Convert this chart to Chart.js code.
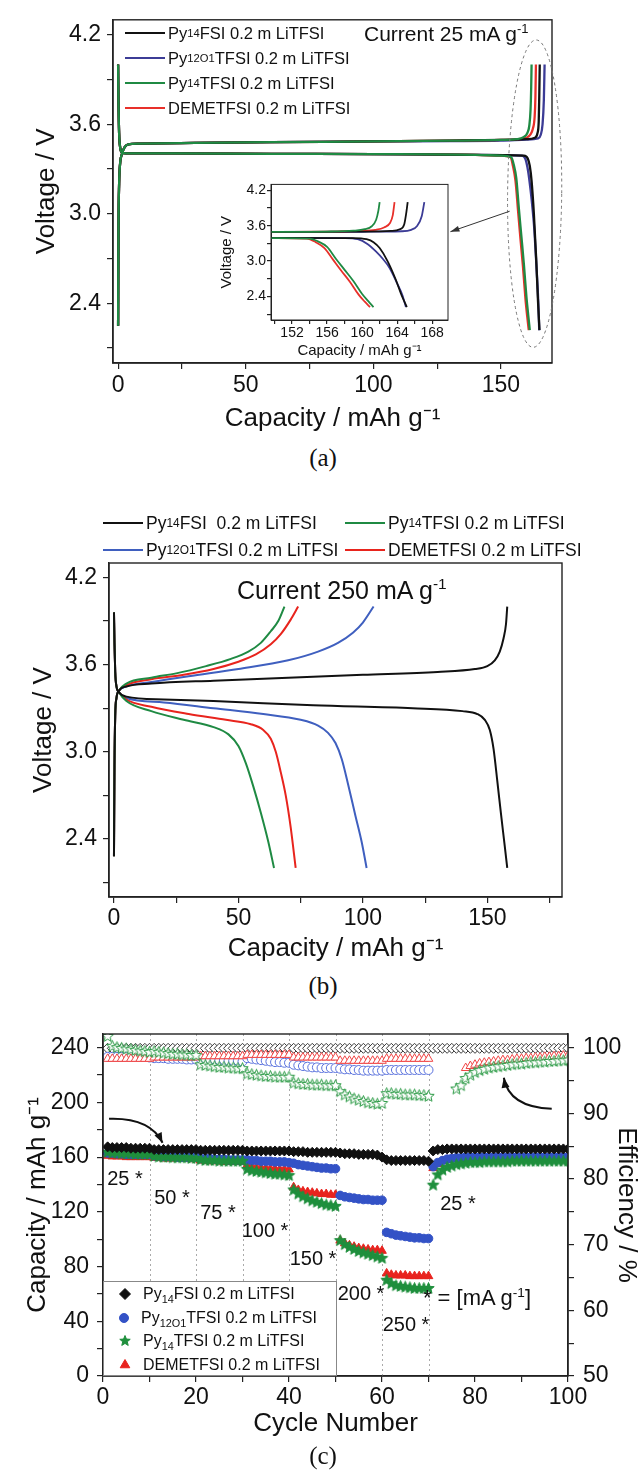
<!DOCTYPE html>
<html>
<head>
<meta charset="utf-8">
<script src="https://cdn.jsdelivr.net/npm/chart.js@4.4.1/dist/chart.umd.min.js"></script>
<style>
  body { margin: 0; background: #fff; }
  #page { position: relative; width: 644px; height: 1471px; overflow: hidden; font-family: 'Liberation Sans', Arial, sans-serif; color: #111; }
  canvas { position: absolute; }
  .t { position: absolute; white-space: nowrap; line-height: 1; transform: translateY(-50%); }
  .c { position: absolute; white-space: nowrap; line-height: 1; transform: translate(-50%, -50%); }
  .lg { position: absolute; display: flex; align-items: center; white-space: nowrap; height: 20px; transform: translateY(-50%); }
  .lg i { display: inline-block; width: 40px; height: 2.5px; margin-right: 3px; }
  .lg canvas { position: static; margin-right: 11px; }
  sub { font-size: 68%; vertical-align: -0.35em; line-height: 0; }
  sup { font-size: 62%; vertical-align: 0.6em; line-height: 0; }
  .cap { position: absolute; font-family: 'Liberation Serif', 'Times New Roman', serif; font-size: 25px; line-height: 1; transform: translate(-50%, -50%); }
  #legC { position: absolute; left: 103px; top: 1281px; width: 234px; height: 95px; background: #fff; border: 1px solid #888; box-sizing: border-box; }
</style>
</head>
<body>
<div id="page">
  <canvas id="chartA" width="644" height="440" style="left:0;top:0"></canvas>
  <canvas id="chartInset" width="250" height="186" style="left:205px;top:175px"></canvas>
  <canvas id="chartB" width="644" height="470" style="left:0;top:500px"></canvas>
  <canvas id="chartC" width="644" height="471" style="left:0;top:1000px"></canvas>

  <!-- panel (a) -->
  <div class="lg" style="left:125px;top:33px;font-size:16.5px"><i style="background:#111"></i>Py<sub>14</sub>FSI 0.2 m LiTFSI</div>
  <div class="lg" style="left:125px;top:58px;font-size:16.5px"><i style="background:#3c3c96"></i>Py<sub>12O1</sub>TFSI 0.2 m LiTFSI</div>
  <div class="lg" style="left:125px;top:83px;font-size:16.5px"><i style="background:#1f8a43"></i>Py<sub>14</sub>TFSI 0.2 m LiTFSI</div>
  <div class="lg" style="left:125px;top:108px;font-size:16.5px"><i style="background:#e8302a"></i>DEMETFSI 0.2 m LiTFSI</div>
  <div class="t" style="left:364px;top:33px;font-size:21px">Current 25 mA g<sup>-1</sup></div>
  <div class="cap" style="left:323px;top:457px">(a)</div>

  <!-- panel (b) -->
  <div class="lg" style="left:103px;top:523px;font-size:17.5px"><i style="background:#111"></i>Py<sub>14</sub>FSI&nbsp; 0.2 m LiTFSI</div>
  <div class="lg" style="left:345px;top:523px;font-size:17.5px"><i style="background:#1f8a43"></i>Py<sub>14</sub>TFSI 0.2 m LiTFSI</div>
  <div class="lg" style="left:103px;top:550px;font-size:17.5px"><i style="background:#3f5fbf"></i>Py<sub>12O1</sub>TFSI 0.2 m LiTFSI</div>
  <div class="lg" style="left:345px;top:550px;font-size:17.5px"><i style="background:#e8241d"></i>DEMETFSI 0.2 m LiTFSI</div>
  <div class="t" style="left:237px;top:590px;font-size:25px">Current 250 mA g<sup>-1</sup></div>
  <div class="cap" style="left:323px;top:985px">(b)</div>

  <!-- panel (c) -->
  <div class="c" style="left:125px;top:1178px;font-size:20px">25 *</div>
  <div class="c" style="left:172px;top:1197px;font-size:20px">50 *</div>
  <div class="c" style="left:218px;top:1212px;font-size:20px">75 *</div>
  <div class="c" style="left:265px;top:1230px;font-size:20px">100 *</div>
  <div class="c" style="left:313px;top:1258px;font-size:20px">150 *</div>
  <div class="c" style="left:361px;top:1293px;font-size:20px">200 *</div>
  <div class="c" style="left:406px;top:1324px;font-size:20px">250 *</div>
  <div class="c" style="left:458px;top:1203px;font-size:20px">25 *</div>
  <div class="c" style="left:477px;top:1298px;font-size:22px">* = [mA g<sup>-1</sup>]</div>
  <div id="legC"></div>
  <div class="cap" style="left:323px;top:1455px">(c)</div>
</div>

<script>
// ---- panel (a): 25 mA/g charge & discharge, [capacity mAh/g, voltage V]
const A_CHG_PY14FSI = [[0,2.25],[0.15,2.9],[0.4,3.2],[0.8,3.34],[1.5,3.4],[2.5,3.445],[4,3.465],[8,3.47],[30,3.475],[60,3.48],[100,3.485],[130,3.49],[150,3.495],[160,3.5],[163.3,3.51],[164.3,3.54],[164.8,3.62],[165.0,3.78],[165.2,4.0]];
const A_CHG_PY12O1 = [[0,2.25],[0.15,2.9],[0.4,3.2],[0.8,3.34],[1.5,3.4],[2.5,3.445],[4,3.465],[8,3.47],[30,3.475],[60,3.48],[100,3.485],[130,3.487],[150,3.49],[160,3.497],[164.5,3.505],[165.6,3.53],[166.3,3.6],[166.8,3.76],[167.1,4.0]];
const A_CHG_PY14TFSI = [[0,2.25],[0.15,2.9],[0.4,3.2],[0.8,3.34],[1.5,3.4],[2.5,3.445],[4,3.465],[8,3.47],[30,3.475],[60,3.48],[100,3.485],[130,3.49],[150,3.495],[156,3.5],[159,3.515],[160.3,3.54],[161.1,3.59],[161.6,3.7],[161.85,3.85],[162.0,4.0]];
const A_CHG_DEME = [[0,2.25],[0.15,2.9],[0.4,3.2],[0.8,3.34],[1.5,3.4],[2.5,3.445],[4,3.465],[8,3.47],[30,3.475],[60,3.48],[100,3.485],[130,3.49],[150,3.495],[157,3.5],[160,3.51],[161.5,3.53],[162.5,3.57],[163.2,3.65],[163.5,3.78],[163.7,4.0]];
const A_DIS_PY14FSI = [[0,4.0],[0.15,3.75],[0.4,3.54],[0.8,3.445],[1.5,3.41],[3,3.405],[20,3.405],[60,3.402],[100,3.4],[140,3.395],[159,3.39],[160.5,3.37],[161.3,3.32],[162,3.22],[162.9,3.0],[163.8,2.7],[164.5,2.42],[165.1,2.22]];
const A_DIS_PY12O1 = [[0,4.0],[0.15,3.75],[0.4,3.54],[0.8,3.445],[1.5,3.41],[3,3.405],[20,3.405],[60,3.402],[100,3.4],[140,3.395],[158,3.39],[159.5,3.37],[160.6,3.29],[161.6,3.16],[162.4,3.03],[163.1,2.89],[164.0,2.62],[164.6,2.42],[165.0,2.22]];
const A_DIS_PY14TFSI = [[0,4.0],[0.15,3.75],[0.4,3.54],[0.8,3.445],[1.5,3.41],[3,3.405],[20,3.405],[60,3.402],[100,3.4],[140,3.395],[150,3.39],[154,3.38],[155,3.33],[156,3.24],[157,3.04],[158,2.85],[159,2.66],[160,2.44],[160.7,2.32],[161.3,2.22]];
const A_DIS_DEME = [[0,4.0],[0.15,3.75],[0.4,3.54],[0.8,3.445],[1.5,3.41],[3,3.405],[20,3.405],[60,3.402],[100,3.4],[140,3.395],[150,3.39],[153.7,3.38],[154.7,3.32],[155.7,3.22],[156.7,3.02],[157.6,2.84],[158.6,2.65],[159.6,2.43],[160.3,2.31],[160.9,2.22]];

// ---- panel (b): 250 mA/g
const B_CHG_PY14FSI = [[0,2.28],[0.2,2.9],[0.5,3.25],[1,3.37],[2,3.42],[5,3.45],[15,3.47],[40,3.49],[70,3.51],[100,3.53],[130,3.55],[145,3.57],[150,3.59],[153,3.63],[155,3.69],[156.5,3.78],[157.5,3.88],[158,4.0]];
const B_CHG_PY12O1 = [[0,2.28],[0.2,2.9],[0.5,3.25],[1,3.37],[2,3.42],[5,3.45],[15,3.48],[30,3.52],[50,3.57],[70,3.63],[82,3.69],[90,3.75],[96,3.82],[100,3.89],[104.3,4.0]];
const B_CHG_PY14TFSI = [[0,2.28],[0.2,2.9],[0.5,3.25],[1,3.37],[2,3.42],[5,3.47],[15,3.51],[25,3.54],[37,3.59],[47,3.64],[54,3.69],[59,3.75],[63,3.83],[66,3.9],[68.5,4.0]];
const B_CHG_DEME = [[0,2.28],[0.2,2.9],[0.5,3.25],[1,3.37],[2,3.42],[5,3.46],[15,3.5],[28,3.53],[40,3.57],[50,3.62],[57,3.67],[63,3.74],[67,3.81],[71,3.91],[74,4.0]];
const B_DIS_PY14FSI = [[0,3.96],[0.2,3.75],[0.5,3.55],[1,3.45],[2,3.41],[5,3.38],[20,3.36],[40,3.35],[80,3.32],[120,3.3],[140,3.28],[146,3.26],[149,3.22],[151,3.15],[152.5,3.02],[154,2.8],[155.5,2.57],[157,2.35],[158,2.2]];
const B_DIS_PY12O1 = [[0,3.96],[0.2,3.75],[0.5,3.55],[1,3.45],[2,3.41],[5,3.37],[20,3.34],[40,3.3],[60,3.26],[75,3.22],[82,3.18],[86,3.13],[89,3.06],[91.5,2.95],[94,2.78],[97,2.56],[99.5,2.38],[101.5,2.2]];
const B_DIS_PY14TFSI = [[0,3.96],[0.2,3.75],[0.5,3.55],[1,3.45],[2,3.41],[5,3.35],[15,3.28],[28,3.22],[40,3.17],[46,3.12],[50,3.04],[53,2.92],[56,2.76],[59,2.58],[62,2.38],[64.3,2.2]];
const B_DIS_DEME = [[0,3.96],[0.2,3.75],[0.5,3.55],[1,3.45],[2,3.41],[5,3.36],[15,3.31],[30,3.26],[45,3.22],[55,3.19],[60,3.15],[63,3.09],[65,3.0],[67,2.86],[69,2.7],[71,2.48],[73,2.2]];

// ---- panel (c): rate capability, cycles 1..100
const CYCLES = [1,2,3,4,5,6,7,8,9,10,11,12,13,14,15,16,17,18,19,20,21,22,23,24,25,26,27,28,29,30,31,32,33,34,35,36,37,38,39,40,41,42,43,44,45,46,47,48,49,50,51,52,53,54,55,56,57,58,59,60,61,62,63,64,65,66,67,68,69,70,71,72,73,74,75,76,77,78,79,80,81,82,83,84,85,86,87,88,89,90,91,92,93,94,95,96,97,98,99,100];
const CAP_PY14FSI = [167.5,167,167,167,167,166.5,166.5,166.5,166.5,166.5, 165.5,165.5,165.5,165.5,165.5,165.5,165.5,165.5,165.5,165.5, 165,165,165,165,165,165,165,165,165,165, 164.5,164.5,164.5,164.5,164.5,164.5,164.5,164.5,164.5,164.5, 164,164,164,163.5,163.5,163.5,163.5,163.5,163.5,163.5, 163,162.5,162.5,162.5,162,162,162,162,161.5,160, 158,157.5,157.5,157.5,157.5,157.5,157.5,157.5,157.5,157, 164.5,165.5,165.5,166,166,166,166,166,166,166, 166,166,166,166,166,166,166,166,166,166, 166,166,166,166,166,166,166,166,166,166];
const CAP_PY12O1 = [163,163,162.5,162.5,162,162,162,162,162,162, 161,161,160.5,160.5,160.5,160,160,160,160,160, 159,159,159,158.5,158.5,158.5,158,158,158,158, 158,157.5,157.5,157,157,157,156.5,156.5,156.5,156, 155.5,154.5,154,153.5,153,152.5,152,152,151.5,151.5, 132,131,130.5,130,129.5,129,129,128.5,128.5,128.5, 105,104,103,102.5,102,101.5,101,101,100.5,100.5, 153,156,157.5,158.5,159,159.5,159.5,160,160,160, 160,160,160,160,160,160,160,160,160,160, 160,160,160,160,160,160,160,160,160,160];
const CAP_PY14TFSI = [163.5,163,163,162.5,162.5,162.5,162,162,162,162, 160.5,160,160,160,159.5,159.5,159.5,159.5,159,159, 158,157.5,157.5,157.5,157,157,157,157,157,157, 151,150,149.5,149,148.5,148,147.5,147.5,147,146.5, 136,133,131,129.5,128,127,126,125,124.5,124, 99,96,94,92.5,91,90,89,88,87,86, 70,67.5,66,65.5,65,64.5,64,64,64,64, 139.5,147,150.5,152.5,153.5,154.5,155,155.5,156,156, 156,156.5,156.5,156.5,156.5,156.5,156.5,157,157,157, 157,157,157,157,157,157,157,157,157,157];
const CAP_DEME = [161,160.5,160.5,160.5,160,160,160,160,160,160, 159.5,159.5,159,159,159,159,159,159,158.5,158.5, 157.5,157.5,157,157,157,156.5,156.5,156.5,156.5,156.5, 154,153,152.5,152,152,151.5,151.5,151,151,151, 138,136,135,134.5,134,133.5,133,133,132.5,132.5, 99,97,95.5,94.5,93.5,93,92.5,92,92,91.5, 75,74,73.5,73.5,73.5,73,73,73,73,73, 152,155,157,158,158.5,159,159,159,159.5,159.5, 159.5,159.5,159.5,159.5,159.5,159.5,159.5,159.5,159.5,159.5, 159.5,159.5,159.5,159.5,159.5,159.5,159.5,159.5,159.5,159.5];
const EFF_PY14FSI = [99.9,99.9,99.9,99.9,99.9,99.9,99.9,99.9,99.9,99.9, 99.9,99.9,99.9,99.9,99.9,99.9,99.9,99.9,99.9,99.9, 99.9,99.9,99.9,99.9,99.9,99.9,99.9,99.9,99.9,99.9, 99.9,99.9,99.9,99.9,99.9,99.9,99.9,99.9,99.9,99.9, 99.9,99.9,99.9,99.9,99.9,99.9,99.9,99.9,99.9,99.9, 99.9,99.9,99.9,99.9,99.9,99.9,99.9,99.9,99.9,99.9, 99.9,99.9,99.9,99.9,99.9,99.9,99.9,99.9,99.9,99.9, 99.9,99.9,99.9,99.9,99.9,99.9,99.9,99.9,99.9,99.9, 99.9,99.9,99.9,99.9,99.9,99.9,99.9,99.9,99.9,99.9, 99.9,99.9,99.9,99.9,99.9,99.9,99.9,99.9,99.9,99.9];
const EFF_PY12O1 = [98.6,98.6,98.6,98.6,98.6,98.6,98.6,98.6,98.6,98.5, 98.4,98.4,98.4,98.3,98.3,98.3,98.3,98.2,98.2,98.2, 98.3,98.3,98.2,98.2,98.1,98.1,98.0,98.0,98.0,97.9, 98.4,98.3,98.2,98.1,98.0,97.9,97.8,97.8,97.7,97.7, 97.4,97.3,97.2,97.1,97.0,97.0,96.9,96.9,96.9,96.9, 96.8,96.7,96.7,96.6,96.6,96.5,96.5,96.5,96.5,96.5, 96.6,96.6,96.6,96.6,96.6,96.6,96.6,96.6,96.6,96.6, null,null,null,null,null,null,null,null,null,null, null,null,null,null,null,null,null,null,null,null, null,null,null,null,null,null,null,null,null,null];
const EFF_PY14TFSI = [101.7,100.2,100.0,99.9,99.8,99.7,99.6,99.5,99.4,99.3, 99.4,99.3,99.2,99.1,99.0,99.0,98.9,98.9,98.8,98.8, 97.4,97.3,97.2,97.1,97.0,97.0,96.9,96.9,96.8,96.8, 96.0,95.9,95.8,95.7,95.6,95.6,95.5,95.5,95.5,95.5, 94.6,94.5,94.4,94.4,94.3,94.3,94.3,94.2,94.2,94.2, 93.3,92.8,92.5,92.2,92.0,91.8,91.6,91.5,91.4,91.5, 93.0,93.0,92.9,92.9,92.8,92.8,92.8,92.7,92.7,92.6, null,null,null,null,null,93.7,94.2,95.3,95.8,96.2, 96.5,96.7,96.9,97.0,97.1,97.2,97.3,97.4,97.5,97.5, 97.6,97.7,97.7,97.8,97.8,97.9,97.9,98.0,98.0,98.1];
const EFF_DEME = [98.3,98.3,98.3,98.3,98.3,98.3,98.3,98.3,98.3,98.3, 98.5,98.5,98.5,98.5,98.5,98.5,98.5,98.5,98.5,98.5, 98.7,98.7,98.7,98.7,98.7,98.7,98.7,98.7,98.7,98.7, 98.9,98.9,98.9,98.9,98.9,98.9,98.9,98.9,98.9,98.9, 98.5,98.5,98.5,98.5,98.5,98.5,98.5,98.5,98.5,98.5, 98.0,98.0,98.0,98.0,98.0,98.0,98.0,98.0,98.0,98.0, 98.3,98.3,98.3,98.3,98.3,98.3,98.3,98.3,98.3,98.3, null,null,null,null,null,null,null,96.9,97.2,97.4, 97.6,97.7,97.8,97.9,98.0,98.1,98.1,98.2,98.3,98.3, 98.4,98.4,98.5,98.5,98.6,98.6,98.7,98.7,98.8,98.8];
const RATE_BOUNDS = [10, 20, 30, 40, 50, 60, 70];

// ---- ticks
const A_X_TICKS = [0, 25, 50, 75, 100, 125, 150];
const A_X_LABELS = [0, 50, 100, 150];
const V_TICKS = [2.1, 2.4, 2.7, 3.0, 3.3, 3.6, 3.9, 4.2];
const V_LABELS = [2.4, 3.0, 3.6, 4.2];
const INSET_X_TICKS = [150, 152, 154, 156, 158, 160, 162, 164, 166, 168];
const INSET_X_LABELS = [152, 156, 160, 164, 168];
const B_X_TICKS = [0, 25, 50, 75, 100, 125, 150, 175];
const B_X_LABELS = [0, 50, 100, 150];
const C_X_TICKS = [0, 10, 20, 30, 40, 50, 60, 70, 80, 90, 100];
const C_X_LABELS = [0, 20, 40, 60, 80, 100];
const CAP_TICKS = [0, 20, 40, 60, 80, 100, 120, 140, 160, 180, 200, 220, 240];
const CAP_LABELS = [0, 40, 80, 120, 160, 200, 240];
const EFF_TICKS = [50, 55, 60, 65, 70, 75, 80, 85, 90, 95, 100];
const EFF_LABELS = [50, 60, 70, 80, 90, 100];

const FONT = "'Liberation Sans', Arial, sans-serif";
const INK = '#111';

function axis(o) {
  return {
    type: 'linear',
    position: o.position,
    min: o.min,
    max: o.max,
    afterBuildTicks: (s) => { s.ticks = o.ticks.map((v) => ({ value: v })); },
    afterFit: (s) => { if (o.position === 'bottom') s.height = o.fit; else s.width = o.fit; },
    ticks: {
      autoSkip: false, maxRotation: 0, padding: o.pad, color: INK,
      font: { family: FONT, size: o.size },
      callback: (v) => {
        const k = o.labels.find((l) => Math.abs(l - v) < 1e-6);
        return k === undefined ? '' : (o.dec ? k.toFixed(o.dec) : String(k));
      },
    },
    grid: { drawOnChartArea: false, drawTicks: true, tickLength: o.tick || 6, color: '#222', lineWidth: 1.2 },
    border: { display: true, color: '#222', width: o.bw || 1.4 },
    title: { display: !!o.title, text: o.title, color: INK, font: { family: FONT, size: o.titleSize }, padding: o.titlePad },
  };
}

const framePlugin = {
  id: 'frame',
  afterDraw(chart, args, opts) {
    const { ctx, chartArea: { left, top, right, bottom } } = chart;
    ctx.save();
    ctx.strokeStyle = '#222';
    ctx.lineWidth = opts.width || 1.4;
    ctx.strokeRect(left, top, right - left, bottom - top);
    ctx.restore();
  },
};

function line(points, color, width) {
  return {
    data: points.map(([x, y]) => ({ x, y })),
    showLine: true, borderColor: color, borderWidth: width, pointRadius: 0,
    cubicInterpolationMode: 'monotone', fill: false,
  };
}

function arrowHead(ctx, fromX, fromY, x, y, len, wid) {
  const a = Math.atan2(y - fromY, x - fromX);
  ctx.beginPath();
  ctx.moveTo(x, y);
  ctx.lineTo(x - len * Math.cos(a) + wid * Math.sin(a), y - len * Math.sin(a) - wid * Math.cos(a));
  ctx.lineTo(x - len * Math.cos(a) - wid * Math.sin(a), y - len * Math.sin(a) + wid * Math.cos(a));
  ctx.closePath();
  ctx.fill();
}

// ---------- panel (a)
const COL_A = { black: '#111', blue: '#3c3c96', green: '#1f8a43', red: '#e8302a' };
const seriesA = (w) => [
  line(A_CHG_PY14TFSI, COL_A.green, w), line(A_DIS_PY14TFSI, COL_A.green, w),
  line(A_CHG_PY14FSI, COL_A.black, w), line(A_DIS_PY14FSI, COL_A.black, w),
  line(A_CHG_DEME, COL_A.red, w), line(A_DIS_DEME, COL_A.red, w),
  line(A_CHG_PY12O1, COL_A.blue, w), line(A_DIS_PY12O1, COL_A.blue, w),
];

const zoomMarks = {
  id: 'zoomMarks',
  afterDraw(chart) {
    const { ctx, scales: { x, y } } = chart;
    ctx.save();
    // dashed ellipse around the curve ends
    const cx = x.getPixelForValue(163.2), cy = y.getPixelForValue(3.135);
    const rx = x.getPixelForValue(173.8) - cx, ry = cy - y.getPixelForValue(4.165);
    ctx.setLineDash([3, 3]);
    ctx.strokeStyle = '#777';
    ctx.lineWidth = 1;
    ctx.beginPath();
    ctx.ellipse(cx, cy, rx, ry, 0.01, 0, Math.PI * 2);
    ctx.stroke();
    ctx.setLineDash([]);
    // arrow to inset
    const x1 = x.getPixelForValue(153.4), y1 = y.getPixelForValue(3.017);
    const x2 = x.getPixelForValue(130.2), y2 = y.getPixelForValue(2.88);
    ctx.strokeStyle = '#333';
    ctx.fillStyle = '#333';
    ctx.beginPath();
    ctx.moveTo(x1, y1);
    ctx.lineTo(x2, y2);
    ctx.stroke();
    arrowHead(ctx, x1, y1, x2, y2, 9, 3);
    ctx.restore();
  },
};

new Chart(document.getElementById('chartA'), {
  type: 'scatter',
  data: { datasets: seriesA(2.3) },
  options: {
    responsive: false, animation: false,
    layout: { padding: { top: 13, right: 92, left: 0, bottom: 0 } },
    plugins: { legend: { display: false }, tooltip: { enabled: false }, frame: {} },
    scales: {
      x: axis({ position: 'bottom', min: -2, max: 170, ticks: A_X_TICKS, labels: A_X_LABELS, size: 23, pad: 3, fit: 77,
        title: 'Capacity / mAh g\u207B\u00B9', titleSize: 26, titlePad: { top: 0, bottom: 6 } }),
      y: axis({ position: 'left', min: 2.0, max: 4.3, ticks: V_TICKS, labels: V_LABELS, dec: 1, size: 23, pad: 6, fit: 113,
        title: 'Voltage / V', titleSize: 26, titlePad: { top: 31, bottom: 0 } }),
    },
  },
  plugins: [framePlugin, zoomMarks],
});

// inset of panel (a)
new Chart(document.getElementById('chartInset'), {
  type: 'scatter',
  data: { datasets: seriesA(1.8) },
  options: {
    responsive: false, animation: false,
    layout: { padding: { top: 8, right: 7, left: 0, bottom: 0 } },
    plugins: { legend: { display: false }, tooltip: { enabled: false }, frame: { width: 1 } },
    scales: {
      x: axis({ position: 'bottom', min: 149.6, max: 169.8, ticks: INSET_X_TICKS, labels: INSET_X_LABELS, size: 14, pad: 1, fit: 41, tick: 4, bw: 1,
        title: 'Capacity / mAh g\u207B\u00B9', titleSize: 15, titlePad: { top: 0, bottom: 1 } }),
      y: axis({ position: 'left', min: 2.0, max: 4.3, ticks: V_TICKS, labels: V_LABELS, dec: 1, size: 14, pad: 1, fit: 66, tick: 4, bw: 1,
        title: 'Voltage / V', titleSize: 15, titlePad: { top: 13, bottom: 0 } }),
    },
  },
  plugins: [framePlugin],
});

// ---------- panel (b)
const COL_B = { black: '#111', blue: '#3f5fbf', green: '#1f8a43', red: '#e8241d' };
new Chart(document.getElementById('chartB'), {
  type: 'scatter',
  data: {
    datasets: [
      line(B_CHG_PY14FSI, COL_B.black, 2), line(B_DIS_PY14FSI, COL_B.black, 2),
      line(B_CHG_PY14TFSI, COL_B.green, 2), line(B_DIS_PY14TFSI, COL_B.green, 2),
      line(B_CHG_DEME, COL_B.red, 2), line(B_DIS_DEME, COL_B.red, 2),
      line(B_CHG_PY12O1, COL_B.blue, 2), line(B_DIS_PY12O1, COL_B.blue, 2),
    ],
  },
  options: {
    responsive: false, animation: false,
    layout: { padding: { top: 63, right: 82, left: 0, bottom: 0 } },
    plugins: { legend: { display: false }, tooltip: { enabled: false }, frame: {} },
    scales: {
      x: axis({ position: 'bottom', min: -2, max: 180, ticks: B_X_TICKS, labels: B_X_LABELS, size: 23, pad: 2, fit: 73,
        title: 'Capacity / mAh g\u207B\u00B9', titleSize: 26, titlePad: { top: 0, bottom: 6 } }),
      y: axis({ position: 'left', min: 2.0, max: 4.3, ticks: V_TICKS, labels: V_LABELS, dec: 1, size: 23, pad: 6, fit: 109,
        title: 'Voltage / V', titleSize: 26, titlePad: { top: 28, bottom: 0 } }),
    },
  },
  plugins: [framePlugin],
});

// ---------- panel (c)
function makeMarker(kind, fill, stroke, r) {
  const s = Math.ceil(r * 2 + 3);
  const c = document.createElement('canvas');
  c.width = s; c.height = s;
  const g = c.getContext('2d');
  const m = s / 2;
  g.beginPath();
  if (kind === 'star') {
    for (let i = 0; i < 10; i++) {
      const a = -Math.PI / 2 + i * Math.PI / 5;
      const rr = i % 2 ? r * 0.44 : r;
      g.lineTo(m + rr * Math.cos(a), m + rr * Math.sin(a));
    }
  } else if (kind === 'diamond') {
    g.moveTo(m, m - r); g.lineTo(m + r, m); g.lineTo(m, m + r); g.lineTo(m - r, m);
  } else if (kind === 'triangle') {
    g.moveTo(m, m - r); g.lineTo(m + r * 0.87, m + r * 0.5); g.lineTo(m - r * 0.87, m + r * 0.5);
  } else {
    g.arc(m, m, r, 0, Math.PI * 2);
  }
  g.closePath();
  g.fillStyle = fill;
  g.fill();
  if (stroke) { g.strokeStyle = stroke; g.lineWidth = 1; g.stroke(); }
  return c;
}

const COL_C = { black: '#111', blue: '#3352c6', green: '#1f8f3d', red: '#e8231e' };
const COL_E = { black: '#3a3a3a', blue: '#5a72dd', green: '#2b9a45', red: '#f04545' };
const STAR_FILLED = makeMarker('star', COL_C.green, COL_C.green, 6);
const STAR_OPEN = makeMarker('star', '#fff', COL_E.green, 6);

function pts(vals, axisId, style, fill, stroke, r) {
  return {
    yAxisID: axisId,
    data: CYCLES.map((c, i) => ({ x: c, y: vals[i] })),
    pointStyle: style, pointRadius: r, pointHoverRadius: r,
    pointBackgroundColor: fill, pointBorderColor: stroke, pointBorderWidth: 1,
  };
}

const rateMarks = {
  id: 'rateMarks',
  beforeDatasetsDraw(chart) {
    const { ctx, chartArea: { top, bottom }, scales: { x } } = chart;
    ctx.save();
    ctx.strokeStyle = '#aaa';
    ctx.lineWidth = 1;
    ctx.setLineDash([2, 3]);
    RATE_BOUNDS.forEach((v) => {
      const px = Math.round(x.getPixelForValue(v)) + 0.5;
      ctx.beginPath(); ctx.moveTo(px, top); ctx.lineTo(px, bottom); ctx.stroke();
    });
    ctx.restore();
  },
  afterDraw(chart) {
    const { ctx, scales: { x, y } } = chart;
    ctx.save();
    ctx.strokeStyle = '#111';
    ctx.fillStyle = '#111';
    ctx.lineWidth = 2;
    const curve = (a, c, b) => {
      const P = (p) => [x.getPixelForValue(p[0]), y.getPixelForValue(p[1])];
      const [ax, ay] = P(a), [cx, cy] = P(c), [bx, by] = P(b);
      ctx.beginPath(); ctx.moveTo(ax, ay); ctx.quadraticCurveTo(cx, cy, bx, by); ctx.stroke();
      arrowHead(ctx, cx, cy, bx, by, 10, 4);
    };
    curve([1.3, 188], [10.1, 189], [12.8, 170.5]);
    curve([96.5, 195.3], [87.3, 196.5], [86.2, 218]);
    ctx.restore();
  },
};

new Chart(document.getElementById('chartC'), {
  type: 'scatter',
  data: {
    datasets: [
      pts(CAP_PY14FSI, 'y', 'rectRot', COL_C.black, COL_C.black, 5),
      pts(CAP_PY14TFSI, 'y', STAR_FILLED, COL_C.green, COL_C.green, 6),
      pts(CAP_PY12O1, 'y', 'circle', COL_C.blue, COL_C.blue, 4.3),
      pts(CAP_DEME, 'y', 'triangle', COL_C.red, COL_C.red, 5),
      pts(EFF_PY14TFSI, 'y2', STAR_OPEN, '#fff', COL_E.green, 6),
      pts(EFF_DEME, 'y2', 'triangle', '#fff', COL_E.red, 5),
      pts(EFF_PY12O1, 'y2', 'circle', '#fff', COL_E.blue, 4.5),
      pts(EFF_PY14FSI, 'y2', 'rectRot', '#fff', COL_E.black, 5),
    ],
  },
  options: {
    responsive: false, animation: false,
    layout: { padding: { top: 34, right: 0, left: 0, bottom: 0 } },
    plugins: { legend: { display: false }, tooltip: { enabled: false }, frame: {} },
    scales: {
      x: axis({ position: 'bottom', min: 0, max: 100, ticks: C_X_TICKS, labels: C_X_LABELS, size: 23, pad: 2, fit: 95,
        title: 'Cycle Number', titleSize: 26, titlePad: { top: 0, bottom: 32 } }),
      y: axis({ position: 'left', min: 0, max: 250, ticks: CAP_TICKS, labels: CAP_LABELS, size: 23, pad: 8, fit: 103,
        title: 'Capacity / mAh g\u207B\u00B9', titleSize: 26, titlePad: { top: 22, bottom: 0 } }),
      y2: axis({ position: 'right', min: 50, max: 102.08, ticks: EFF_TICKS, labels: EFF_LABELS, size: 23, pad: 9, fit: 76,
        title: 'Efficiency / %', titleSize: 26, titlePad: { top: 2, bottom: 0 } }),
    },
  },
  plugins: [framePlugin, rateMarks],
});

// legend of panel (c)
const LEG_C = [
  ['diamond', COL_C.black, 'Py<sub>14</sub>FSI 0.2 m LiTFSI'],
  ['circle', COL_C.blue, 'Py<sub>12O1</sub>TFSI 0.2 m LiTFSI'],
  ['star', COL_C.green, 'Py<sub>14</sub>TFSI 0.2 m LiTFSI'],
  ['triangle', COL_C.red, 'DEMETFSI 0.2 m LiTFSI'],
];
const legC = document.getElementById('legC');
LEG_C.forEach(([kind, col, label], i) => {
  const row = document.createElement('div');
  row.className = 'lg';
  row.style.cssText = `left:14px;top:${12 + i * 23.5}px;font-size:16px`;
  const r = kind === 'circle' ? 4.5 : 5.5;
  row.appendChild(makeMarker(kind, col, col, r));
  const span = document.createElement('span');
  span.innerHTML = label;
  row.appendChild(span);
  legC.appendChild(row);
});
</script>
</body>
</html>
